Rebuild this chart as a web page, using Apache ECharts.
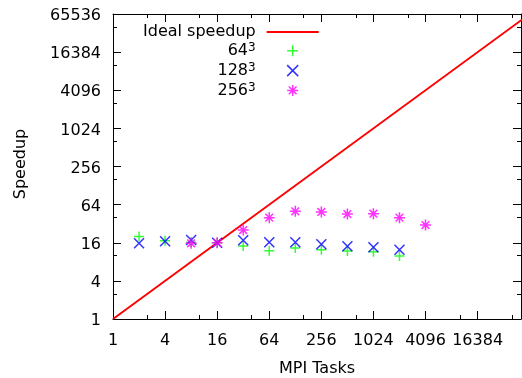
<!DOCTYPE html>
<html>
<head>
<meta charset="utf-8">
<script src="https://cdn.jsdelivr.net/npm/echarts@6/dist/echarts.min.js"></script>
<style>html,body{margin:0;padding:0;background:#fff}#c{width:522px;height:378px}</style>
</head>
<body>
<div id="c"></div>
<script>
const idealTasks = [1, 65536];
const idealSpeedup = [1, 65536];
const tasks64 = [2, 4, 8, 16, 32, 64, 128, 256, 512, 1024, 2048];
const speedup64 = [20.0, 17.2, 16.3, 16.0, 14.2, 12.0, 13.2, 12.4, 11.9, 11.5, 9.9];
const tasks128 = [2, 4, 8, 16, 32, 64, 128, 256, 512, 1024, 2048];
const speedup128 = [15.7, 16.9, 17.7, 16.0, 17.5, 16.3, 16.3, 15.1, 14.1, 13.6, 12.4];
const tasks256 = [8, 16, 32, 64, 128, 256, 512, 1024, 2048, 4096];
const speedup256 = [15.7, 16.0, 25.4, 39.8, 50.2, 49.0, 45.5, 46.0, 39.8, 30.5];
const xTickLabels = ['1', '4', '16', '64', '256', '1024', '4096', '16384'];
const yTickLabels = ['1', '4', '16', '64', '256', '1024', '4096', '16384', '65536'];
const seriesNames = ['Ideal speedup', '64³', '128³', '256³'];

const FONT = 'DejaVu Sans';
const zip = (a, b) => a.map((v, i) => [v, b[i]]);
const fmt = (labels, wrap) => (v) => {
  const s = String(Math.round(v));
  return labels.indexOf(s) >= 0 ? (wrap ? '{a|' + s + '}' : s) : '';
};
const PLUS = 'path://M0,5L10,5M5,0L5,10';
const CROSS = 'path://M0,0L10,10M10,0L0,10';
const STAR = 'path://M0,5L10,5M5,0L5,10M1.5,1.5L8.5,8.5M8.5,1.5L1.5,8.5';

function axisBase(show, pos) {
  return {
    type: 'log', logBase: 2, position: pos,
    axisLine: { show: true, lineStyle: { color: '#000', width: 1 } },
    axisTick: { show: true, inside: true, length: 8, lineStyle: { color: '#000', width: 1 } },
    minorTick: { show: true, splitNumber: 2, length: 4, lineStyle: { color: '#000', width: 1 } },
    splitLine: { show: false },
    minorSplitLine: { show: false },
    axisLabel: { show: show, color: '#000', fontFamily: FONT, fontSize: 16, margin: 14 },
    interval: 2
  };
}
const xMain = Object.assign(axisBase(true, 'bottom'), {
  min: 1, max: 52000, name: 'MPI Tasks', nameLocation: 'middle', nameGap: 42,
  nameTextStyle: { color: '#000', fontFamily: FONT, fontSize: 16 }
});
xMain.axisLabel.formatter = fmt(xTickLabels, false);
xMain.axisLabel.showMaxLabel = false;
const xTop = Object.assign(axisBase(false, 'top'), { min: 1, max: 52000 });
const yMain = Object.assign(axisBase(true, 'left'), {
  min: 1, max: 65536, name: 'Speedup', nameLocation: 'middle', nameGap: 84,
  nameTextStyle: { color: '#000', fontFamily: FONT, fontSize: 16, padding: [0, 0, 0, 5] }
});
yMain.axisLabel.formatter = fmt(yTickLabels, true);
yMain.axisLabel.margin = 12;
yMain.axisLabel.rich = { a: { color: '#000', fontFamily: FONT, fontSize: 16, padding: [4, 0, 0, 0] } };
const yRight = Object.assign(axisBase(false, 'right'), { min: 1, max: 65536 });

function scatter(name, xs, ys, sym, color, size) {
  return {
    name: name, type: 'scatter', xAxisIndex: 0, yAxisIndex: 0,
    data: zip(xs, ys), symbol: sym, symbolSize: size,
    itemStyle: { color: 'none', borderColor: color, borderWidth: 1.5 },
    emphasis: { disabled: true }, z: 3
  };
}

const chart = echarts.init(document.getElementById('c'), null, { renderer: 'canvas' });
chart.setOption({
  animation: false,
  backgroundColor: '#fff',
  grid: { left: 113, right: 1, top: 14, bottom: 59, containLabel: false, outerBoundsMode: 'none' },
  xAxis: [xMain, xTop],
  yAxis: [yMain, yRight],
  legend: {
    orient: 'vertical', align: 'right', left: 143, top: 24, padding: 0,
    itemWidth: 52, itemHeight: 11, itemGap: 1.8,
    formatter: (name) => name.replace('³', '{s|3}'),
    textStyle: {
      color: '#000', fontFamily: FONT, fontSize: 16, lineHeight: 16, padding: [0, 6, 0, 0],
      rich: { s: { color: '#000', fontFamily: FONT, fontSize: 12, lineHeight: 16, padding: [0, 0, 6, 0] } }
    },
    itemStyle: { borderWidth: 1.5 },
    data: [
      { name: seriesNames[0], itemStyle: { color: 'rgba(0,0,0,0)', borderWidth: 0, opacity: 0 } },
      seriesNames[1], seriesNames[2], seriesNames[3]
    ]
  },
  series: [
    {
      name: seriesNames[0], type: 'line', data: zip(idealTasks, idealSpeedup),
      showSymbol: false, symbol: 'none', clip: true,
      lineStyle: { color: '#ff0000', width: 2 }, itemStyle: { color: '#ff0000' }, z: 2
    },
    scatter(seriesNames[1], tasks64, speedup64, PLUS, '#00ff00', 10),
    scatter(seriesNames[2], tasks128, speedup128, CROSS, '#0000ff', 10),
    scatter(seriesNames[3], tasks256, speedup256, STAR, '#ff00ff', 11)
  ]
});
</script>
</body>
</html>
